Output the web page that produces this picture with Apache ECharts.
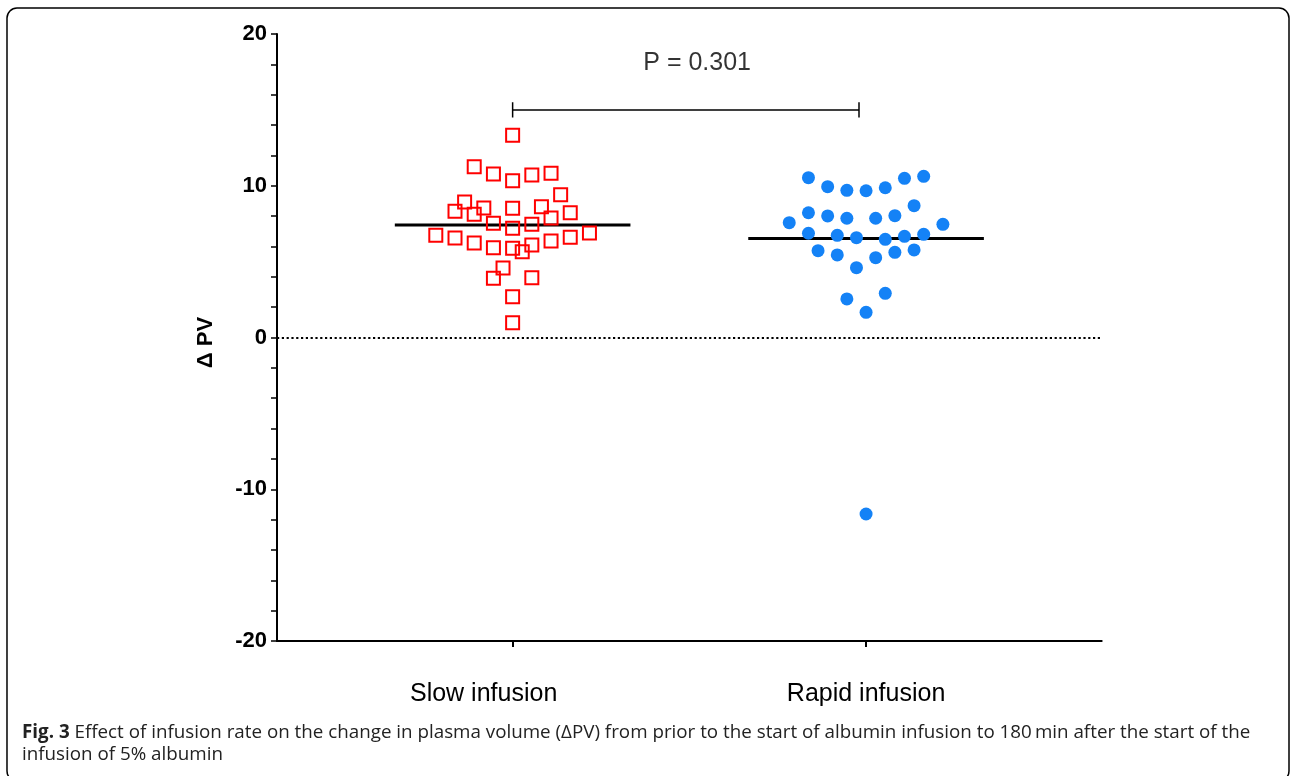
<!DOCTYPE html>
<html>
<head>
<meta charset="utf-8">
<style>
  html, body { margin: 0; padding: 0; background: #fff; }
  #chart { width: 1292px; height: 776px; }
</style>
<script src="https://cdn.jsdelivr.net/npm/echarts@6/dist/echarts.min.js"></script>
</head>
<body>
<div id="chart"></div>
<script>
// ---- data ----
const categories = ['Slow infusion', 'Rapid infusion'];
const slowValues = [13.32, 11.26, 10.77, 10.33, 10.71, 10.82, 9.41, 8.93, 8.32, 8.53, 8.12, 8.51, 8.62, 8.22, 7.87, 7.53, 7.20, 7.46, 6.73, 6.56, 6.23, 5.92, 5.88, 5.65, 6.10, 6.36, 6.60, 6.89, 4.58, 3.90, 3.94, 2.69, 0.98];
const slowCols   = [0, -4, -2, 0, 2, 4, 5, -5, -6, -3, -4, 0, 3, 6, 4, -2, 0, 2, -8, -6, -4, -2, 0, 1, 2, 4, 6, 8, -1, -2, 2, 0, 0];
const rapidValues = [10.53, 9.94, 9.70, 9.67, 9.87, 10.49, 10.62, 8.69, 8.22, 8.01, 7.86, 7.86, 8.03, 7.57, 7.46, 6.87, 6.73, 6.58, 6.47, 6.67, 6.80, 5.72, 5.44, 4.60, 5.26, 5.61, 5.77, 2.54, 2.91, 1.66, -11.63];
const rapidCols   = [-6, -4, -2, 0, 2, 4, 6, 5, -6, -4, -2, 1, 3, -8, 8, -6, -3, -1, 2, 4, 6, -5, -3, -1, 1, 3, 5, -2, 2, 0, 0];
const groupMeans = [7.42, 6.53];
const yTickLabels = [-20, -10, 0, 10, 20];
const pLabel = 'P = 0.301';
const bracketLevel = 15;
const captionBold = 'Fig. 3';
const captionLine1 = ' Effect of infusion rate on the change in plasma volume (ΔPV) from prior to the start of albumin infusion to 180\u2009min after the start of the';
const captionLine2 = 'infusion of 5% albumin';

// ---- layout constants ----
const colStep = 0.02717;     // half-column width of the swarm, in x units
const meanHalf = 1 / 3;
const bracketEnd = 1.98;
const bracketTick = 0.5;
const FONT = 'Liberation Sans, Arial, sans-serif';

const slowData = slowValues.map((v, i) => [1 + slowCols[i] * colStep, v]);
const rapidData = rapidValues.map((v, i) => [2 + rapidCols[i] * colStep, v]);
const meanSeries = groupMeans.map((m, i) => ({
  type: 'line', silent: true, symbol: 'none', z: 3,
  lineStyle: { color: '#000', width: 3 },
  data: [[i + 1 - meanHalf, m], [i + 1 + meanHalf, m]]
}));

const chart = echarts.init(document.getElementById('chart'));
chart.setOption({
  animation: false,
  backgroundColor: '#fff',
  grid: { left: 277, right: 190.3, top: 34, bottom: 135, containLabel: false, outerBoundsMode: 'none' },
  xAxis: {
    type: 'value', min: 1 / 3, max: 8 / 3,
    axisLine: { show: true, onZero: false, lineStyle: { color: '#000', width: 2 } },
    axisTick: { show: true, customValues: [1, 2], length: 6, lineStyle: { color: '#000', width: 2 } },
    axisLabel: {
      customValues: [1, 2],
      formatter: v => (Math.round(v) === 1 ? '{a|' : '{b|') + categories[Math.round(v) - 1] + '}',
      rich: {
        a: { fontFamily: FONT, fontSize: 25, color: '#000', padding: [0, 58, 0, 0] },
        b: { fontFamily: FONT, fontSize: 25, color: '#000', padding: [0, 0, 0, 0] }
      },
      fontFamily: FONT, fontSize: 25, color: '#000', margin: 41
    },
    splitLine: { show: false }
  },
  yAxis: {
    type: 'value', min: -20, max: 20, interval: 2,
    name: 'Δ PV', nameLocation: 'middle', nameRotate: 90, nameGap: 60,
    nameTextStyle: { fontFamily: FONT, fontSize: 22, fontWeight: 'bold', color: '#000', padding: [0, 10, 0, 0] },
    axisLine: { show: true, onZero: false, lineStyle: { color: '#000', width: 2 } },
    axisTick: { show: true, length: 6, lineStyle: { color: '#000', width: 1.5 } },
    axisLabel: {
      customValues: yTickLabels,
      fontFamily: FONT, fontSize: 22, fontWeight: 'bold', color: '#000', margin: 10
    },
    splitLine: { show: false }
  },
  series: [
    {
      type: 'scatter', name: categories[0], symbol: 'rect', symbolSize: 13, z: 4,
      itemStyle: { color: 'rgba(255,255,255,0)', borderColor: '#ff0000', borderWidth: 2, opacity: 1 },
      data: slowData,
      markLine: {
        silent: true, symbol: 'none', label: { show: false },
        lineStyle: { color: '#000', type: [2.2, 2.6], width: 2.2 },
        data: [{ yAxis: 0 }]
      }
    },
    {
      type: 'scatter', name: categories[1], symbol: 'circle', symbolSize: 13, z: 4,
      itemStyle: { color: '#1482f6', opacity: 1 },
      data: rapidData
    },
    ...meanSeries,
    {
      type: 'line', silent: true, symbol: 'none',
      lineStyle: { color: '#000', width: 1.5 },
      data: [[1, bracketLevel + bracketTick], [1, bracketLevel - bracketTick], [1, bracketLevel],
             [bracketEnd, bracketLevel], [bracketEnd, bracketLevel + bracketTick], [bracketEnd, bracketLevel - bracketTick]]
    },
    {
      type: 'scatter', silent: true, symbolSize: 0,
      data: [[1.522, 18.05]],
      label: {
        show: true, position: 'inside', formatter: pLabel,
        fontFamily: FONT, fontSize: 25, color: '#000'
      }
    }
  ],
  graphic: [
    {
      type: 'rect', silent: true,
      shape: { x: 7, y: 8, width: 1282, height: 773, r: 10 },
      style: { fill: 'none', stroke: '#000', lineWidth: 1.5 }
    },
    {
      type: 'text', left: 22, top: 723,
      style: {
        text: '{b|' + captionBold + '}' + captionLine1,
        font: '18.8px "Open Sans", sans-serif', fill: '#222',
        rich: { b: { fontWeight: 'bold', fontSize: 18.8, fontFamily: 'Open Sans', fill: '#222' } }
      }
    },
    {
      type: 'text', left: 22, top: 745,
      style: { text: captionLine2, font: '18.8px "Open Sans", sans-serif', fill: '#222' }
    }
  ]
});
</script>
</body>
</html>
